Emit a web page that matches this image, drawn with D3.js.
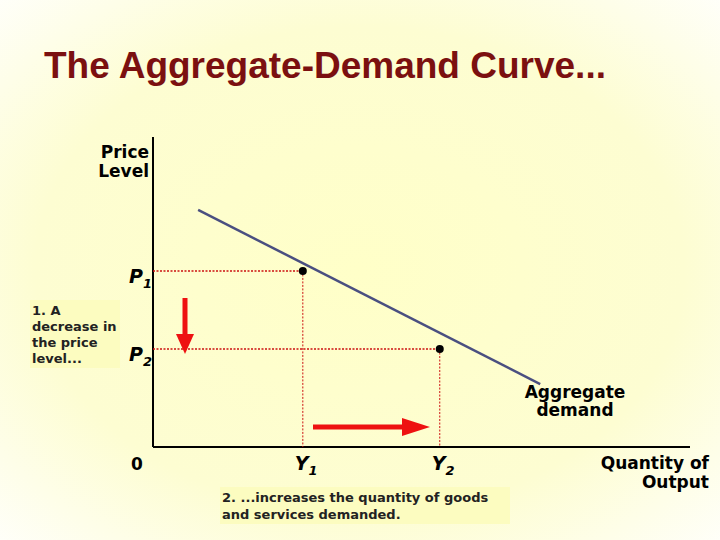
<!DOCTYPE html>
<html><head><meta charset="utf-8">
<script src="https://cdn.jsdelivr.net/npm/d3@7"></script>
<style>body{margin:0}svg{display:block}</style>
</head><body>
<script>
// data (axis units 0..100)
const curve = [[8.4, 76.5], [72.1, 20.3]];
const points = [{label: "P", sub: "1", ylabel: "Y", x: 27.9, y: 56.8},
                {label: "P", sub: "2", ylabel: "Y", x: 53.4, y: 31.6}];

const W = 720, H = 540;
const svg = d3.select("body").append("svg").attr("width", W).attr("height", H);
const defs = svg.append("defs");
const g = defs.append("radialGradient").attr("id", "bg").attr("cx", "50%").attr("cy", "50%").attr("r", "75%");
g.append("stop").attr("offset", "0%").attr("stop-color", "#ffffc8");
g.append("stop").attr("offset", "60%").attr("stop-color", "#fdfdd2");
g.append("stop").attr("offset", "100%").attr("stop-color", "#ffffff");
svg.append("rect").attr("width", W).attr("height", H).attr("fill", "url(#bg)");

svg.append("text").attr("x", 44).attr("y", 78).attr("fill", "#7b1010")
  .style("font", "bold 37px Arial, 'Liberation Sans'").text("The Aggregate-Demand Curve...");

const x = d3.scaleLinear().domain([0, 100]).range([153, 690]);
const y = d3.scaleLinear().domain([0, 100]).range([447, 137]);

const font = "bold 17px Verdana, 'DejaVu Sans'";
// axes
svg.append("line").attr("x1", x(0)).attr("x2", x(0)).attr("y1", y(100)).attr("y2", y(0)).attr("stroke", "#000").attr("stroke-width", 2);
svg.append("line").attr("x1", x(0)).attr("x2", x(100)).attr("y1", y(0)).attr("y2", y(0)).attr("stroke", "#000").attr("stroke-width", 2);

// dotted guides
points.forEach(p => {
  svg.append("line").attr("x1", x(0)).attr("x2", x(p.x)).attr("y1", y(p.y)).attr("y2", y(p.y))
    .attr("stroke", "#cc1111").attr("stroke-width", 1.5).attr("stroke-dasharray", "2,1.5");
  svg.append("line").attr("x1", x(p.x)).attr("x2", x(p.x)).attr("y1", y(p.y)).attr("y2", y(0))
    .attr("stroke", "#cc1111").attr("stroke-width", 1).attr("stroke-dasharray", "2,1.5");
});

// curve
svg.append("path").attr("d", d3.line().x(d => x(d[0])).y(d => y(d[1]))(curve))
  .attr("stroke", "#4a4f80").attr("stroke-width", 2.5).attr("fill", "none");
svg.selectAll("circle.pt").data(points).join("circle").attr("cx", d => x(d.x)).attr("cy", d => y(d.y)).attr("r", 4).attr("fill", "#000");

// labels
points.forEach(p => {
  const t = svg.append("text").attr("x", x(0) - 24).attr("y", y(p.y) + 12).style("font", "italic bold 19px Verdana, 'DejaVu Sans'");
  t.append("tspan").text(p.label);
  t.append("tspan").attr("dy", 5).style("font-size", "13px").text(p.sub);
  const u = svg.append("text").attr("x", x(p.x) - 8).attr("y", y(0) + 23).style("font", "italic bold 19px Verdana, 'DejaVu Sans'");
  u.append("tspan").text(p.ylabel);
  u.append("tspan").attr("dy", 5).style("font-size", "13px").text(p.sub);
});
svg.append("text").attr("x", x(0) - 16).attr("y", y(0) + 23).attr("text-anchor", "middle").style("font", font).text("0");
svg.append("text").attr("x", 149).attr("text-anchor", "end").style("font", font)
  .selectAll("tspan").data(["Price", "Level"]).join("tspan").attr("x", 149).attr("y", (d, i) => 158 + i * 19).text(d => d);
svg.append("text").attr("text-anchor", "middle").style("font", font)
  .selectAll("tspan").data(["Aggregate", "demand"]).join("tspan").attr("x", 575).attr("y", (d, i) => 398 + i * 18).text(d => d);
svg.append("text").attr("text-anchor", "end").style("font", font)
  .selectAll("tspan").data(["Quantity of", "Output"]).join("tspan").attr("x", 709).attr("y", (d, i) => 469 + i * 19).text(d => d);

// annotation boxes
svg.append("rect").attr("x", 30).attr("y", 300).attr("width", 90).attr("height", 68).attr("fill", "#fcfcc0");
svg.append("text").style("font", "bold 13px Verdana, 'DejaVu Sans'").attr("fill", "#222")
  .selectAll("tspan").data(["1. A", "decrease in", "the price", "level..."]).join("tspan").attr("x", 32).attr("y", (d, i) => 315 + i * 16).text(d => d);
svg.append("rect").attr("x", 220).attr("y", 487).attr("width", 290).attr("height", 37).attr("fill", "#fcfcc0");
svg.append("text").style("font", "bold 13px Verdana, 'DejaVu Sans'").attr("fill", "#222")
  .selectAll("tspan").data(["2. ...increases the quantity of goods", "and services demanded."]).join("tspan").attr("x", 222).attr("y", (d, i) => 502 + i * 17).text(d => d);

// arrows
svg.append("line").attr("x1", 185).attr("x2", 185).attr("y1", 298).attr("y2", 334).attr("stroke", "#ee1111").attr("stroke-width", 5);
svg.append("path").attr("d", "M176,334 L194,334 L185,354 Z").attr("fill", "#ee1111");
svg.append("line").attr("x1", 313).attr("x2", 405).attr("y1", 427).attr("y2", 427).attr("stroke", "#ee1111").attr("stroke-width", 5);
svg.append("path").attr("d", "M402,418 L430,427 L402,436 Z").attr("fill", "#ee1111");
</script>
</body></html>
